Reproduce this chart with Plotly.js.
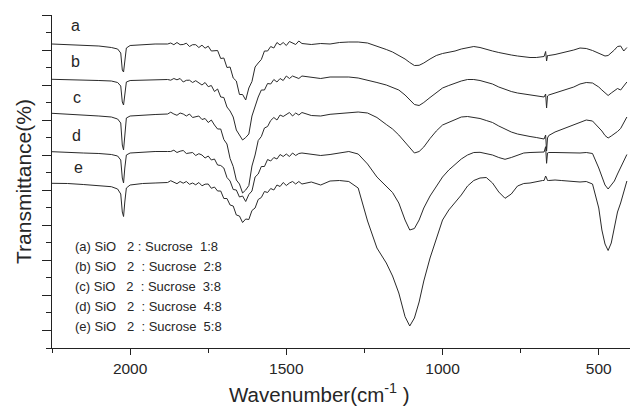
<!DOCTYPE html>
<html>
<head>
<meta charset="utf-8">
<script src="https://cdn.plot.ly/plotly-3.0.1.min.js"></script>
<style>html,body{margin:0;padding:0;background:#fff;}#chart{width:630px;height:407px;}</style>
</head>
<body>
<div id="chart"></div>
<script>
// Wavenumber (cm-1)
const wavenumber = [2250,2200,2150,2100,2060,2040,2030,2025,2021,2017,2012,2000,1960,1920,1880,
1870,1860,1850,1840,1830,1820,1810,1800,1790,1780,1770,1760,1750,1740,1730,1720,1710,1700,1690,1680,1670,1660,1650,1640,1630,1620,1610,1600,1590,1580,1570,1560,1550,1540,1530,1520,1510,1500,1490,1480,1470,1460,1450,
1420,1390,1360,1330,1300,1270,1240,1210,1180,1160,1140,1120,1105,1090,1075,1060,1040,1020,1000,980,960,940,920,900,880,860,840,820,800,780,760,740,720,700,680,675,670,667,664,660,640,620,600,580,560,540,520,500,490,480,470,460,450,440,430,420,410];

// Transmittance (arbitrary units, curves offset vertically)
const curveA = [304,303.5,302.5,302,300.5,299,295,278,276,288,300,302.5,303.5,304,304,
305,303.3,305.5,303.3,303.5,304.8,301.5,303.3,303.3,300.5,302.8,299.8,301.8,297,297.5,297.5,289.5,290,280.5,281,270,267,253.5,253.5,248,260,266.5,281,285,288.5,297,297,301.5,300,305.5,303,305.5,302.5,306.5,305,303.5,307,304.5,
303.5,304.5,304,305.5,306,306,305,302,298.5,296,292.5,289,285.5,282.5,282.7,285,289,292.5,294.5,295.5,297,299,300.5,301.5,300.5,298.5,297,295.5,294,293,292,291,290.5,290.5,291,291.5,296.5,287,292.5,292.5,293.5,295,296,298,300,299.5,297.5,295,293.5,292,292.5,295,298,301.5,302,297,300.5];

const curveB = [268.7,268.5,268,267.5,267,265.5,262,246,243,254,266,267.5,268,268.5,268.5,
267.8,269.5,268.2,269.5,266,267.7,267.8,265.5,267.3,264.8,263,265.5,261.3,262.5,256.5,259,251,250.5,241,237,231,218,213.5,208,210.5,214,232,241.5,251,258,258,264.5,264,268.5,266,269.5,267.5,272,269.5,272,270.5,269.5,272,
270.5,269.5,271,271.3,271,270,268,265.5,263,260.5,258,253,248.5,243.5,242.5,245.5,250.5,255.5,260,262.5,265,267,268.5,268.5,267.5,266,264,261,258.5,256.5,255,254,253,252,251,251,254,240,252,253,255,257,258.5,261,264,265.5,265,261,258,255,252.5,255,257,259.5,258,262,266];

const curveC = [234.7,234,233,232,231,229,225,203,198,214,230,232,233,233.5,234,
235.8,234,232.7,235,234,232,234,230.5,231,232,228.5,229.5,225.5,228,223,219,219,208.5,204,189.5,181.5,168,164,155,158,162.5,182,193,207.5,211.5,220,221.5,227.5,230.5,228,233,231.5,233.5,235.5,232,235,233,235.5,
232.5,232,233.7,234.5,235.5,236,235,230.5,223.5,219,213,205.5,200,195,196.5,201,209.5,217,223,225.5,228.5,231,231.5,230.5,229.5,227.5,225.5,222,219,216,214,212.5,211.5,210.5,209,209,213,197,210,212.5,216,218.5,220.5,223,226,228,227,221,217,212.5,210,212,214,216.5,219.5,225,231];

const curveD = [196.3,196,195,194.5,193.5,192,188,170,165,180,193,195,196,196.5,196.5,
196.5,197.8,195.5,196.8,197.5,194.5,195,195.5,192.5,194.3,193,190,192,188,189,183,182.5,180,170.5,167,158.5,158,151,152,146.5,153.5,157,171,174,181.5,181.5,188.5,187,190.5,189,193.5,191.5,194,191.5,195,192.5,194.5,195,
194,192.5,193.5,195,196.5,194,184,171,162,155.5,145,128,118,119.5,128,140,152,162,171,178,183.5,189,193,195.5,195.7,194.5,193,190.5,188.7,190.5,193,195,195.5,195.7,196,196,201.3,184.7,195,195.5,195.5,195.3,195.3,194.5,195,195.5,194.5,180,171,163,159,163,167,174,181,187,193.5];

const curveE = [164.7,164.5,163.5,162.5,161.3,159,154,136,131.5,146,160,163,164.5,165,165.5,
167.3,166,164.3,166.5,164.8,166.5,163.7,165,163.2,165.5,162.2,163.8,164,159.7,161,157,157,149.5,149.5,143,142,133,132,125.5,129,128.5,137.5,140,148.5,150.5,156.5,155.5,159.5,158,163,161.5,165.5,162.5,165,166.5,164,166.5,164,
166,163,167,167.5,166.5,160,127,100,85,72,55,31.3,22,30,46,67,90,110,128,138,145,153,162,167.5,170,170.5,165,156,149.7,154,162,164.5,165,166.5,167.5,167.5,172,170,167.5,167.5,168,167.5,167,166,166,166.5,164,140,118,104,97.5,105,120,136,145,157,167];

const curveNames = ['a','b','c','d','e'];
const legendLines = [
  '(a) SiO\u00a0\u00a0\u00a02 : Sucrose\u00a0\u00a01:8',
  '(b) SiO\u00a0\u00a0\u00a02\u00a0\u00a0: Sucrose\u00a0\u00a02:8',
  '(c) SiO\u00a0\u00a0\u00a02\u00a0\u00a0: Sucrose\u00a0\u00a03:8',
  '(d) SiO\u00a0\u00a0\u00a02\u00a0\u00a0: Sucrose\u00a0\u00a04:8',
  '(e) SiO\u00a0\u00a0\u00a02\u00a0\u00a0: Sucrose\u00a0\u00a05:8'
];

const series = [curveA, curveB, curveC, curveD, curveE];
const lineColor = '#2a2a2a';
const textColor = '#262626';
const fontFam = '"Liberation Sans", Arial, sans-serif';

const traces = series.map((ys, i) => ({
  x: wavenumber, y: ys, type: 'scatter', mode: 'lines', name: curveNames[i],
  line: {color: lineColor, width: 1}, hoverinfo: 'skip'
}));

const labelPos = [[0.0398,0.969],[0.0412,0.861],[0.0427,0.752],[0.0420,0.638],[0.045,0.5435]];
const legendY = [0.304,0.244,0.184,0.124,0.064];

const annotations = [];
curveNames.forEach((n, i) => annotations.push({
  xref:'paper', yref:'paper', x: labelPos[i][0], y: labelPos[i][1], text: n, showarrow:false,
  xanchor:'center', yanchor:'middle', font:{family:fontFam, size:16, color:textColor}
}));
legendLines.forEach((t, i) => annotations.push({
  xref:'paper', yref:'paper', x: 0.036, y: legendY[i], text: t, showarrow:false,
  xanchor:'left', yanchor:'middle', font:{family:fontFam, size:13, color:textColor}
}));
annotations.push({
  xref:'paper', yref:'paper', x: 0.462, y: -0.136, text: 'Wavenumber(cm<sup>-1</sup> )', showarrow:false,
  xanchor:'center', yanchor:'middle', font:{family:fontFam, size:20.5, color:textColor}
});

const layout = {
  width: 630, height: 407,
  margin: {l: 52, r: 0, t: 15, b: 59, pad: 0},
  paper_bgcolor: '#fff', plot_bgcolor: '#fff',
  showlegend: false, hovermode: false,
  xaxis: {
    range: [2250, 400], showgrid: false, zeroline: false,
    showline: true, linecolor: '#222', linewidth: 1,
    ticks: 'outside', ticklen: 6, tickwidth: 1, tickcolor: '#222',
    tickmode: 'linear', tick0: 0, dtick: 500,
    minor: {ticks: 'outside', ticklen: 3.5, tickwidth: 1, tickcolor: '#222', tick0: 0, dtick: 250, showgrid: false},
    tickfont: {family: fontFam, size: 15.5, color: textColor},
    automargin: false
  },
  yaxis: {
    range: [0, 333], showgrid: false, zeroline: false,
    showline: true, linecolor: '#222', linewidth: 1,
    ticks: 'outside', ticklen: 9, tickwidth: 1, tickcolor: '#222',
    tickmode: 'linear', tick0: 333, dtick: 35.0526,
    minor: {ticks: 'outside', ticklen: 5, tickwidth: 1, tickcolor: '#222', tick0: 0, dtick: 17.5263, showgrid: false},
    showticklabels: false,
    title: {text: 'Transmittance(%)', font: {family: fontFam, size: 21, color: textColor}, standoff: 4},
    automargin: false
  },
  annotations: annotations
};

Plotly.newPlot('chart', traces, layout, {displayModeBar: false, staticPlot: true});
</script>
</body>
</html>
